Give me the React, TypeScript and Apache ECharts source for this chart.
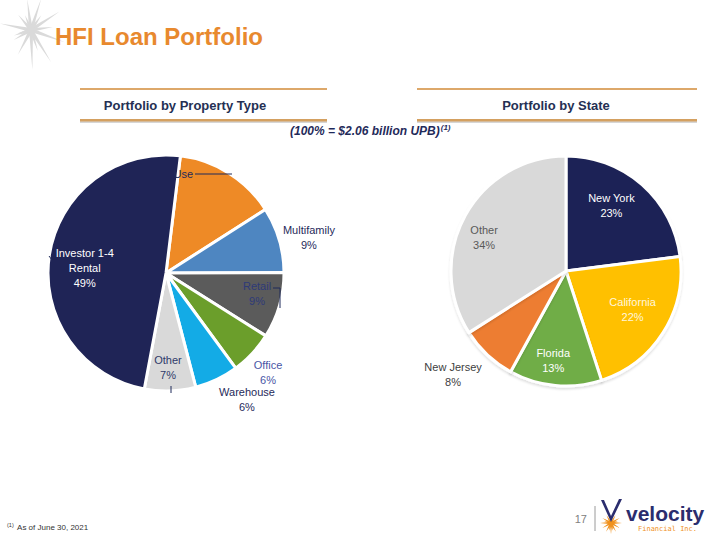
import React, { useEffect, useRef } from "react";
import * as echarts from "echarts";

// ---- Data ----
const leftNames = ["Mixed Use", "Multifamily", "Retail", "Office", "Warehouse", "Other", "Investor 1-4 Rental"];
const leftLabelText = ["Mixed Use", "Multifamily", "Retail", "Office", "Warehouse", "Other", "Investor 1-4\nRental"];
const leftValues = [14, 9, 9, 6, 6, 7, 49];

const rightNames = ["New York", "California", "Florida", "New Jersey", "Other"];
const rightValues = [23, 22, 13, 8, 34];

// ---- Styles ----
const NAVY = "#1F2456";
const leftColors = ["#EE8A26", "#4E86C1", "#5B5B5B", "#6B9E2B", "#13ABE6", "#D9D9D9", NAVY];
const leftLabelColors = ["#1F2A5A", "#1F2A5A", "#2E3A78", "#4A56A6", "#1F2A5A", "#2E3A6A", "#FFFFFF"];
// [radius factor, angle adjust in degrees]
const leftLabelPolar = [[0, 0], [1.247, -2.6], [0.79, 3.6], [1.21, -1.4], [1.27, 7.3], [0.805, -0.8], [0.69, 5.3]];
const leftLabelShow = [false, true, true, true, true, true, true];

const rightColors = [NAVY, "#FFC000", "#70AD47", "#ED7D31", "#D9D9D9"];
const rightLabelColors = ["#FFFFFF", "#FFF6DC", "#FFFFFF", "#404040", "#595959"];
const rightLabelPolar = [[0.69, 6.5], [0.67, 2.2], [0.79, -2.7], [1.33, -4.4], [0.77, 6.5]];

const L = { cx: 166, cy: 273, r: 118, start: 83 };
const R = { cx: 566, cy: 271, r: 115, start: 90 };

function midAngles(values: number[], start: number) {
  const total = values.reduce((a, b) => a + b, 0);
  let cum = 0;
  return values.map((v) => {
    const a0 = start - (360 * cum) / total;
    cum += v;
    const a1 = start - (360 * cum) / total;
    return (a0 + a1) / 2;
  });
}

function makeLayout(values: number[], geo: any, polar: number[][]) {
  const mids = midAngles(values, geo.start);
  return (params: any) => {
    const i = params.dataIndex;
    const [f, adj] = polar[i];
    const a = ((mids[i] + adj) * Math.PI) / 180;
    return {
      x: geo.cx + f * geo.r * Math.cos(a),
      y: geo.cy - f * geo.r * Math.sin(a),
      align: "center",
      verticalAlign: "middle",
    };
  };
}

function starRays(cx: number, cy: number, rays: number[][], base: number, color: string, z = 1) {
  return rays.map(([ang, len]) => {
    const a = (ang * Math.PI) / 180;
    const tx = cx + len * Math.cos(a);
    const ty = cy - len * Math.sin(a);
    const px = (base / 2) * Math.cos(a + Math.PI / 2);
    const py = -(base / 2) * Math.sin(a + Math.PI / 2);
    return {
      type: "polygon",
      z,
      shape: { points: [[cx + px, cy + py], [tx, ty], [cx - px, cy - py]] },
      style: { fill: color },
    };
  });
}

export default function App() {
  const ref = useRef<HTMLDivElement>(null);
  useEffect(() => {
    if (!ref.current) return;
    const chart = echarts.init(ref.current, undefined, { renderer: "svg" });
    const font = "Liberation Sans, Arial, sans-serif";

    const leftData = leftNames.map((n, i) => ({
      name: n,
      value: leftValues[i],
      itemStyle: { color: leftColors[i] },
      label: { show: leftLabelShow[i], color: leftLabelColors[i] },
    }));
    const rightData = rightNames.map((n, i) => ({
      name: n,
      value: rightValues[i],
      itemStyle: { color: rightColors[i] },
      label: { color: rightLabelColors[i] },
    }));

    const headerLines = (x1: number, x2: number) => [
      { type: "rect", shape: { x: x1, y: 88, width: x2 - x1, height: 2 }, style: { fill: "#DDA86A" } },
      { type: "rect", shape: { x: x1, y: 121, width: x2 - x1, height: 2 }, style: { fill: "#D6D6D6" } },
      { type: "rect", shape: { x: x1, y: 119, width: x2 - x1, height: 2.5 }, style: { fill: "#D4A060" } },
    ];

    const grayStar = starRays(31, 30, [
      [97, 31], [72, 33], [33, 34], [168, 32], [-118, 28], [-88, 40], [-58, 38], [-20, 36],
      [130, 20], [8, 22], [-150, 20], [55, 18], [198, 18], [-72, 22], [112, 16], [-165, 14],
    ], 4, "#DADADA", 0);

    const logoStar = starRays(611, 523, [
      [0, 11], [30, 10], [60, 9], [120, 9], [150, 10], [180, 11], [210, 10], [240, 10],
      [270, 11], [300, 10], [330, 10], [15, 7], [165, 7], [255, 8], [285, 8],
    ], 2.5, "#F0921E", 1);

    chart.setOption({
      animation: false,
      backgroundColor: "#FFFFFF",
      textStyle: { fontFamily: font },
      series: [
        {
          type: "pie",
          center: [L.cx, L.cy],
          radius: [0, L.r],
          startAngle: L.start,
          clockwise: true,
          data: leftData,
          itemStyle: { borderColor: "#FFFFFF", borderWidth: 3 },
          label: {
            show: true,
            position: "inside",
            fontSize: 11,
            lineHeight: 15,
            fontFamily: font,
            formatter: (p: any) => `${leftLabelText[p.dataIndex]}\n${p.value}%`,
          },
          labelLine: { show: false },
          labelLayout: makeLayout(leftValues, L, leftLabelPolar),
          emphasis: { disabled: true },
        },
        {
          type: "pie",
          center: [R.cx, R.cy],
          radius: [0, R.r],
          startAngle: R.start,
          clockwise: true,
          data: rightData,
          itemStyle: { borderColor: "#FFFFFF", borderWidth: 3, shadowColor: "rgba(0,0,0,0.12)", shadowBlur: 2, shadowOffsetY: 2 },
          label: {
            show: true,
            position: "inside",
            fontSize: 11,
            lineHeight: 15,
            fontFamily: font,
            formatter: (p: any) => `${p.name}\n${p.value}%`,
          },
          labelLine: { show: false },
          labelLayout: makeLayout(rightValues, R, rightLabelPolar),
          emphasis: { disabled: true },
        },
      ],
      graphic: [
        ...grayStar,
        {
          type: "text",
          left: 55,
          top: 24,
          z: 5,
          style: { text: "HFI Loan Portfolio", fill: "#E8892E", font: `bold 24px ${font}` },
        },
        ...headerLines(80, 327),
        ...headerLines(417, 697),
        {
          type: "text",
          x: 185,
          y: 105,
          style: { text: "Portfolio by Property Type", fill: "#253053", font: `bold 13px ${font}`, align: "center", verticalAlign: "middle" },
        },
        {
          type: "text",
          x: 556,
          y: 105,
          style: { text: "Portfolio by State", fill: "#253053", font: `bold 13px ${font}`, align: "center", verticalAlign: "middle" },
        },
        {
          type: "text",
          x: 290,
          y: 131,
          style: {
            text: "{a|(100% = $2.06 billion UPB)}{b|(1)}",
            verticalAlign: "middle",
            rich: {
              a: { fill: "#1F2A5A", font: `italic bold 12px ${font}` },
              b: { fill: "#1F2A5A", font: `italic bold 8px ${font}`, verticalAlign: "top", padding: [0, 0, 7, 1] },
            },
          },
        },
        // label leader artefacts (left pie)
        {
          type: "text",
          x: 193,
          y: 174,
          z: 10,
          style: { text: "Use", fill: "#1F2A5A", font: `11px ${font}`, align: "right", verticalAlign: "middle" },
        },
        { type: "line", z: 10, shape: { x1: 195, y1: 174, x2: 232, y2: 174 }, style: { stroke: "#1F2A5A", lineWidth: 1 } },
        { type: "polyline", z: 10, shape: { points: [[273, 288], [280, 288], [280, 308]] }, style: { stroke: "#1F2A5A", lineWidth: 1, fill: null } },
        { type: "line", z: 10, shape: { x1: 171, y1: 386, x2: 171, y2: 393 }, style: { stroke: "#1F2A5A", lineWidth: 1 } },
        { type: "line", z: 10, shape: { x1: 49, y1: 256, x2: 52, y2: 260 }, style: { stroke: "#1F2A5A", lineWidth: 1 } },
        // footnote
        {
          type: "text",
          x: 7,
          y: 527,
          style: {
            text: "{s|(1)} {t|As of June 30, 2021}",
            verticalAlign: "middle",
            rich: {
              s: { fill: "#333333", font: `5.5px ${font}`, padding: [0, 0, 4, 0] },
              t: { fill: "#333333", font: `8px ${font}` },
            },
          },
        },
        // page number & logo
        {
          type: "text",
          x: 587,
          y: 519,
          style: { text: "17", fill: "#808080", font: `11px ${font}`, align: "right", verticalAlign: "middle" },
        },
        { type: "line", shape: { x1: 595, y1: 506, x2: 595, y2: 531 }, style: { stroke: "#9A9A9A", lineWidth: 1 } },
        ...logoStar,
        { type: "polygon", z: 2, shape: { points: [[601, 500], [604, 500], [611, 516], [619, 499], [622, 499], [611, 522]] }, style: { fill: "#2B2D6E" } },
        {
          type: "text",
          x: 626,
          y: 513,
          style: { text: "velocity", fill: "#2B2D6E", font: `bold 21px ${font}`, verticalAlign: "middle" },
        },
        {
          type: "text",
          x: 638,
          y: 529,
          style: { text: "Financial Inc.", fill: "#F0921E", font: `7px "DejaVu Sans Mono", monospace`, verticalAlign: "middle" },
        },
      ],
    });
    return () => chart.dispose();
  }, []);
  return <div ref={ref} style={{ position: "fixed", left: 0, top: 0, width: 720, height: 540 }} />;
}
